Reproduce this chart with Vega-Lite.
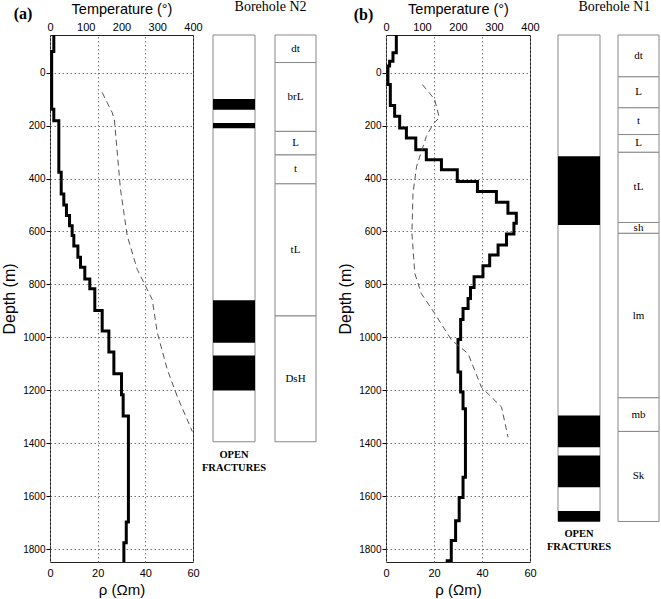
{
  "$schema": "https://vega.github.io/schema/vega-lite/v6.json",
  "background": "white",
  "padding": {"left": 1, "top": 0, "right": 0, "bottom": 0},
  "config": {
    "font": "Liberation Sans",
    "view": {"stroke": null},
    "axis": {"labelFont": "Liberation Sans", "titleFont": "Liberation Sans", "labelColor": "#000", "titleColor": "#000", "titleFontWeight": "normal", "domain": false, "tickColor": "#000", "gridColor": "#777", "gridDash": [1.5, 2.5], "gridOpacity": 1}
  },
  "datasets": {
    "rhoA": [
      {"depth": -142, "rho": 1.6}, {"depth": -80, "rho": 0.7}, {"depth": 138, "rho": 1.6}, {"depth": 182, "rho": 3.7},
      {"depth": 376, "rho": 4.7}, {"depth": 458, "rho": 5.8}, {"depth": 500, "rho": 6.9}, {"depth": 540, "rho": 8.2},
      {"depth": 578, "rho": 9.3}, {"depth": 615, "rho": 10.0}, {"depth": 655, "rho": 11.7}, {"depth": 697, "rho": 12.8},
      {"depth": 735, "rho": 14.6}, {"depth": 779, "rho": 16.7}, {"depth": 816, "rho": 18.8}, {"depth": 898, "rho": 21.9},
      {"depth": 976, "rho": 24.7}, {"depth": 1055, "rho": 26.8}, {"depth": 1137, "rho": 30.0}, {"depth": 1216, "rho": 30.7},
      {"depth": 1297, "rho": 32.9}, {"depth": 1697, "rho": 32.0}, {"depth": 1775, "rho": 31.0}, {"depth": 1848, "rho": 31.0}
    ],
    "tempA": [
      {"depth": 75, "temp": 146}, {"depth": 100, "temp": 155}, {"depth": 151, "temp": 174}, {"depth": 177, "temp": 180},
      {"depth": 439, "temp": 197}, {"depth": 616, "temp": 216}, {"depth": 743, "temp": 244}, {"depth": 819, "temp": 272},
      {"depth": 857, "temp": 286}, {"depth": 981, "temp": 300}, {"depth": 1121, "temp": 328}, {"depth": 1223, "temp": 356},
      {"depth": 1355, "temp": 398}
    ],
    "colA": [{"top": -142, "bottom": 1394}],
    "fracA": [
      {"top": 100, "bottom": 140}, {"top": 190, "bottom": 210}, {"top": 860, "bottom": 1020}, {"top": 1068, "bottom": 1200}
    ],
    "lithA": [
      {"top": -142, "bottom": -38, "unit": "dt"}, {"top": -38, "bottom": 222, "unit": "brL"}, {"top": 222, "bottom": 311, "unit": "L"},
      {"top": 311, "bottom": 420, "unit": "t"}, {"top": 420, "bottom": 919, "unit": "tL"}, {"top": 919, "bottom": 1394, "unit": "DsH"}
    ],
    "rhoB": [
      {"depth": -142, "rho": 4.3}, {"depth": -75, "rho": 2.9}, {"depth": -43, "rho": 1.5}, {"depth": -25, "rho": 0.8},
      {"depth": 45, "rho": 1.8}, {"depth": 124, "rho": 3.6}, {"depth": 165, "rho": 5.7}, {"depth": 209, "rho": 8.5},
      {"depth": 247, "rho": 12.4}, {"depth": 291, "rho": 16.8}, {"depth": 329, "rho": 23.1}, {"depth": 367, "rho": 29.7},
      {"depth": 411, "rho": 38.1}, {"depth": 449, "rho": 46.0}, {"depth": 490, "rho": 50.8}, {"depth": 531, "rho": 54.3},
      {"depth": 569, "rho": 53.3}, {"depth": 609, "rho": 50.2}, {"depth": 651, "rho": 46.7}, {"depth": 689, "rho": 43.2},
      {"depth": 729, "rho": 40.4}, {"depth": 771, "rho": 36.7}, {"depth": 811, "rho": 35.2}, {"depth": 853, "rho": 34.2},
      {"depth": 891, "rho": 32.1}, {"depth": 932, "rho": 31.1}, {"depth": 1008, "rho": 30.0}, {"depth": 1131, "rho": 31.1},
      {"depth": 1206, "rho": 32.1}, {"depth": 1269, "rho": 33.1}, {"depth": 1528, "rho": 32.1}, {"depth": 1604, "rho": 30.5},
      {"depth": 1692, "rho": 29.0}, {"depth": 1767, "rho": 27.2}, {"depth": 1843, "rho": 25.5}, {"depth": 1848, "rho": 25.5}
    ],
    "tempB": [
      {"depth": 45, "temp": 101}, {"depth": 101, "temp": 135}, {"depth": 170, "temp": 148}, {"depth": 196, "temp": 130},
      {"depth": 241, "temp": 112}, {"depth": 354, "temp": 85}, {"depth": 455, "temp": 75}, {"depth": 606, "temp": 72},
      {"depth": 758, "temp": 80}, {"depth": 834, "temp": 98}, {"depth": 909, "temp": 135}, {"depth": 1010, "temp": 182},
      {"depth": 1061, "temp": 228}, {"depth": 1188, "temp": 265}, {"depth": 1263, "temp": 321}, {"depth": 1377, "temp": 339}
    ],
    "colB": [{"top": -142, "bottom": 1695}],
    "fracB": [
      {"top": 316, "bottom": 575}, {"top": 1295, "bottom": 1415}, {"top": 1446, "bottom": 1566}, {"top": 1655, "bottom": 1695}
    ],
    "lithB": [
      {"top": -142, "bottom": 16, "unit": "dt"}, {"top": 16, "bottom": 133, "unit": "L"}, {"top": 133, "bottom": 234, "unit": "t"},
      {"top": 234, "bottom": 301, "unit": "L"}, {"top": 301, "bottom": 566, "unit": "tL"}, {"top": 566, "bottom": 607, "unit": "sh"},
      {"top": 607, "bottom": 1228, "unit": "lm"}, {"top": 1228, "bottom": 1355, "unit": "mb"}, {"top": 1355, "bottom": 1695, "unit": "Sk"}
    ],
    "note": [{"label": "OPEN\nFRACTURES"}],
    "tagA": [{"label": "(a)"}],
    "tagB": [{"label": "(b)"}],
    "boreA": [{"label": "Borehole N2"}],
    "boreB": [{"label": "Borehole N1"}]
  },
  "spacing": 20,
  "hconcat": [
    {
      "bounds": "flush",
      "spacing": 20,
      "hconcat": [
        {
          "width": 143, "height": 527,
          "view": {"stroke": "#222", "strokeWidth": 1},
          "layer": [
            {
              "data": {"name": "rhoA"},
              "mark": {"type": "line", "interpolate": "step-before", "color": "#000", "strokeWidth": 3, "clip": true},
              "encoding": {
                "x": {"field": "rho", "type": "quantitative", "scale": {"domain": [0, 60], "nice": false, "zero": false},
                      "axis": {"orient": "bottom", "values": [0, 20, 40, 60], "grid": true, "ticks": false, "labelFlush": false, "labelPadding": 5, "labelFontSize": 11, "title": "ρ (Ωm)", "titleFontSize": 15, "titlePadding": 4}},
                "y": {"field": "depth", "type": "quantitative", "scale": {"domain": [-142, 1848], "reverse": true, "nice": false, "zero": false},
                      "axis": {"values": [0, 200, 400, 600, 800, 1000, 1200, 1400, 1600, 1800], "format": "d", "grid": true, "tickSize": 4, "labelPadding": 1, "labelFontSize": 10, "title": "Depth (m)", "titleFontSize": 16, "titlePadding": 5}},
                "order": {"field": "depth", "type": "quantitative"}
              }
            },
            {
              "data": {"name": "tempA"},
              "mark": {"type": "line", "color": "#555", "strokeWidth": 1, "strokeDash": [6, 4]},
              "encoding": {
                "x": {"field": "temp", "type": "quantitative", "scale": {"domain": [0, 400], "nice": false, "zero": false},
                      "axis": {"orient": "top", "values": [0, 100, 200, 300, 400], "grid": false, "ticks": false, "labelFlush": false, "labelPadding": 3, "labelFontSize": 11, "title": "Temperature (°)", "titleFontSize": 14.5, "titlePadding": 5}},
                "y": {"field": "depth", "type": "quantitative"},
                "order": {"field": "depth", "type": "quantitative"}
              }
            },
            {
              "data": {"name": "tagA"},
              "mark": {"type": "text", "font": "Liberation Serif", "fontSize": 16, "fontWeight": "bold", "baseline": "alphabetic", "align": "center", "color": "#000"},
              "encoding": {
                "text": {"field": "label"},
                "x": {"datum": -11.3, "type": "quantitative", "scale": {"domain": [0, 60], "nice": false, "zero": false}, "axis": null},
                "y": {"datum": -202, "type": "quantitative"}
              }
            }
          ],
          "resolve": {"scale": {"x": "independent"}, "axis": {"x": "independent"}}
        },
        {
          "width": 42, "height": 527,
          "layer": [
            {
              "data": {"name": "colA"},
              "mark": {"type": "rect", "fill": "#fff", "stroke": "#888", "strokeWidth": 1},
              "encoding": {
                "y": {"field": "top", "type": "quantitative", "scale": {"domain": [-142, 1848], "reverse": true, "nice": false, "zero": false}, "axis": null},
                "y2": {"field": "bottom"},
                "x": {"datum": 0, "type": "quantitative", "scale": {"domain": [0, 1], "nice": false, "zero": false}, "axis": null},
                "x2": {"datum": 1}
              }
            },
            {
              "data": {"name": "fracA"},
              "mark": {"type": "rect", "fill": "#000"},
              "encoding": {
                "y": {"field": "top", "type": "quantitative"},
                "y2": {"field": "bottom"},
                "x": {"datum": 0, "type": "quantitative"},
                "x2": {"datum": 1}
              }
            },
            {
              "data": {"name": "note"},
              "mark": {"type": "text", "font": "Liberation Serif", "fontWeight": "bold", "fontSize": 10.5, "lineBreak": "\n", "lineHeight": 13, "baseline": "top", "align": "center", "color": "#000"},
              "encoding": {
                "text": {"field": "label"},
                "x": {"datum": 0.5, "type": "quantitative"},
                "y": {"datum": 1425, "type": "quantitative"}
              }
            },
            {
              "data": {"name": "boreA"},
              "mark": {"type": "text", "font": "Liberation Serif", "fontSize": 14, "baseline": "alphabetic", "align": "center", "color": "#000"},
              "encoding": {
                "text": {"field": "label"},
                "x": {"datum": 1.37, "type": "quantitative"},
                "y": {"datum": -232, "type": "quantitative"}
              }
            }
          ]
        },
        {
          "width": 41, "height": 527,
          "layer": [
            {
              "data": {"name": "lithA"},
              "mark": {"type": "rect", "fill": "#fff", "stroke": "#888", "strokeWidth": 1},
              "encoding": {
                "y": {"field": "top", "type": "quantitative", "scale": {"domain": [-142, 1848], "reverse": true, "nice": false, "zero": false}, "axis": null},
                "y2": {"field": "bottom"},
                "x": {"datum": 0, "type": "quantitative", "scale": {"domain": [0, 1], "nice": false, "zero": false}, "axis": null},
                "x2": {"datum": 1}
              }
            },
            {
              "data": {"name": "lithA"},
              "transform": [{"fold": ["top", "bottom"], "as": ["edge", "d"]}],
              "mark": {"type": "text", "font": "Liberation Serif", "fontSize": 11, "baseline": "middle", "align": "center", "color": "#000"},
              "encoding": {
                "y": {"aggregate": "mean", "field": "d", "type": "quantitative"},
                "x": {"datum": 0.5, "type": "quantitative"},
                "text": {"field": "unit", "type": "nominal"},
                "detail": {"field": "top", "type": "quantitative"}
              }
            }
          ]
        }
      ]
    },
    {
      "bounds": "flush",
      "spacing": 28,
      "hconcat": [
        {
          "width": 144, "height": 527,
          "view": {"stroke": "#222", "strokeWidth": 1},
          "layer": [
            {
              "data": {"name": "rhoB"},
              "mark": {"type": "line", "interpolate": "step-before", "color": "#000", "strokeWidth": 3, "clip": true},
              "encoding": {
                "x": {"field": "rho", "type": "quantitative", "scale": {"domain": [0, 60], "nice": false, "zero": false},
                      "axis": {"orient": "bottom", "values": [0, 20, 40, 60], "grid": true, "ticks": false, "labelFlush": false, "labelPadding": 5, "labelFontSize": 11, "title": "ρ (Ωm)", "titleFontSize": 15, "titlePadding": 4}},
                "y": {"field": "depth", "type": "quantitative", "scale": {"domain": [-142, 1848], "reverse": true, "nice": false, "zero": false},
                      "axis": {"values": [0, 200, 400, 600, 800, 1000, 1200, 1400, 1600, 1800], "format": "d", "grid": true, "tickSize": 4, "labelPadding": 1, "labelFontSize": 10, "title": "Depth (m)", "titleFontSize": 16, "titlePadding": 5}},
                "order": {"field": "depth", "type": "quantitative"}
              }
            },
            {
              "data": {"name": "tempB"},
              "mark": {"type": "line", "color": "#555", "strokeWidth": 1, "strokeDash": [6, 4]},
              "encoding": {
                "x": {"field": "temp", "type": "quantitative", "scale": {"domain": [0, 400], "nice": false, "zero": false},
                      "axis": {"orient": "top", "values": [0, 100, 200, 300, 400], "grid": false, "ticks": false, "labelFlush": false, "labelPadding": 3, "labelFontSize": 11, "title": "Temperature (°)", "titleFontSize": 14.5, "titlePadding": 5}},
                "y": {"field": "depth", "type": "quantitative"},
                "order": {"field": "depth", "type": "quantitative"}
              }
            },
            {
              "data": {"name": "tagB"},
              "mark": {"type": "text", "font": "Liberation Serif", "fontSize": 16, "fontWeight": "bold", "baseline": "alphabetic", "align": "center", "color": "#000"},
              "encoding": {
                "text": {"field": "label"},
                "x": {"datum": -9.4, "type": "quantitative", "scale": {"domain": [0, 60], "nice": false, "zero": false}, "axis": null},
                "y": {"datum": -198, "type": "quantitative"}
              }
            }
          ],
          "resolve": {"scale": {"x": "independent"}, "axis": {"x": "independent"}}
        },
        {
          "bounds": "flush",
          "spacing": 18,
          "hconcat": [
            {
              "width": 42, "height": 527,
              "layer": [
                {
                  "data": {"name": "colB"},
                  "mark": {"type": "rect", "fill": "#fff", "stroke": "#888", "strokeWidth": 1},
                  "encoding": {
                    "y": {"field": "top", "type": "quantitative", "scale": {"domain": [-142, 1848], "reverse": true, "nice": false, "zero": false}, "axis": null},
                    "y2": {"field": "bottom"},
                    "x": {"datum": 0, "type": "quantitative", "scale": {"domain": [0, 1], "nice": false, "zero": false}, "axis": null},
                    "x2": {"datum": 1}
                  }
                },
                {
                  "data": {"name": "fracB"},
                  "mark": {"type": "rect", "fill": "#000"},
                  "encoding": {
                    "y": {"field": "top", "type": "quantitative"},
                    "y2": {"field": "bottom"},
                    "x": {"datum": 0, "type": "quantitative"},
                    "x2": {"datum": 1}
                  }
                },
                {
                  "data": {"name": "note"},
                  "mark": {"type": "text", "font": "Liberation Serif", "fontWeight": "bold", "fontSize": 10.5, "lineBreak": "\n", "lineHeight": 13, "baseline": "top", "align": "center", "color": "#000"},
                  "encoding": {
                    "text": {"field": "label"},
                    "x": {"datum": 0.5, "type": "quantitative"},
                    "y": {"datum": 1724, "type": "quantitative"}
                  }
                },
                {
                  "data": {"name": "boreB"},
                  "mark": {"type": "text", "font": "Liberation Serif", "fontSize": 14, "baseline": "alphabetic", "align": "center", "color": "#000"},
                  "encoding": {
                    "text": {"field": "label"},
                    "x": {"datum": 1.345, "type": "quantitative"},
                    "y": {"datum": -232, "type": "quantitative"}
                  }
                }
              ]
            },
            {
              "width": 41, "height": 527,
              "layer": [
                {
                  "data": {"name": "lithB"},
                  "mark": {"type": "rect", "fill": "#fff", "stroke": "#888", "strokeWidth": 1},
                  "encoding": {
                    "y": {"field": "top", "type": "quantitative", "scale": {"domain": [-142, 1848], "reverse": true, "nice": false, "zero": false}, "axis": null},
                    "y2": {"field": "bottom"},
                    "x": {"datum": 0, "type": "quantitative", "scale": {"domain": [0, 1], "nice": false, "zero": false}, "axis": null},
                    "x2": {"datum": 1}
                  }
                },
                {
                  "data": {"name": "lithB"},
                  "transform": [{"fold": ["top", "bottom"], "as": ["edge", "d"]}],
                  "mark": {"type": "text", "font": "Liberation Serif", "fontSize": 11, "baseline": "middle", "align": "center", "color": "#000"},
                  "encoding": {
                    "y": {"aggregate": "mean", "field": "d", "type": "quantitative"},
                    "x": {"datum": 0.5, "type": "quantitative"},
                    "text": {"field": "unit", "type": "nominal"},
                    "detail": {"field": "top", "type": "quantitative"}
                  }
                }
              ]
            }
          ]
        }
      ]
    }
  ]
}
